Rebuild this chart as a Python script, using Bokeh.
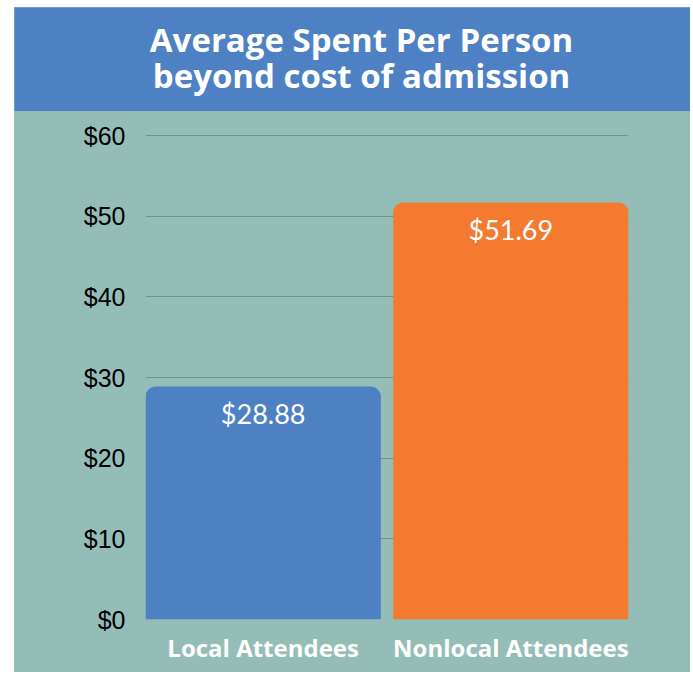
from bokeh.plotting import figure
from bokeh.models import ColumnDataSource, Range1d, FactorRange, FixedTicker, Label
from bokeh.layouts import column
from bokeh.core.properties import value
from bokeh.embed import file_html
from bokeh.resources import INLINE

categories = ["Local Attendees", "Nonlocal Attendees"]
values = [28.88, 51.69]
bar_colors = ["#4E81C4", "#F37A2F"]
value_labels = ["$28.88", "$51.69"]
tick_values = [0, 10, 20, 30, 40, 50, 60]
tick_labels = ["$0", "$10", "$20", "$30", "$40", "$50", "$60"]
title_lines = ["Average Spent Per Person", "beyond cost of admission"]

BLUE = "#4E81C4"
TEAL = "#95BDB7"

# Header band
hdr = figure(width=676, height=104, x_range=Range1d(0, 1), y_range=Range1d(0, 1),
             toolbar_location=None, output_backend="svg",
             min_border=0, min_border_left=0, min_border_right=0,
             min_border_top=0, min_border_bottom=0)
hdr.frame_align = False
hdr.axis.visible = False
hdr.grid.visible = False
hdr.background_fill_color = BLUE
hdr.border_fill_color = BLUE
hdr.outline_line_color = None
for line, ypos in zip(title_lines, [72, 36]):
    hdr.add_layout(Label(x=347, y=ypos, x_units="screen", y_units="screen", text=line,
                         text_align="center", text_baseline="middle",
                         text_color="white", text_font="Open Sans",
                         text_font_style="bold", text_font_size="33px"))

src = ColumnDataSource(dict(cat=categories, val=values, color=bar_colors, lab=value_labels))

# y range extended slightly so the $60 grid line is not clipped at the frame edge
p = figure(width=676, height=561,
           x_range=FactorRange(factors=categories, range_padding=-0.025),
           y_range=Range1d(0, 61),
           toolbar_location=None, output_backend="svg",
           min_border_left=131, min_border_right=62, min_border_top=16, min_border_bottom=53)
p.frame_align = False
p.background_fill_color = TEAL
p.border_fill_color = TEAL
p.outline_line_color = None

p.vbar(x="cat", top="val", bottom=0, width=0.95, color="color", source=src,
       line_color=None, border_radius=(10, 10, 0, 0))
p.text(x="cat", y="val", text="lab", source=src, y_offset=27,
       text_align="center", text_baseline="middle", text_color="white",
       text_font=value("Lato"), text_font_size="27px")

p.xgrid.visible = False
p.ygrid.ticker = FixedTicker(ticks=tick_values)
p.ygrid.grid_line_color = "#6E928C"
p.ygrid.grid_line_width = 1
p.ygrid.level = "underlay"

p.yaxis.ticker = FixedTicker(ticks=tick_values)
p.yaxis.major_label_overrides = {t: l for t, l in zip(tick_values, tick_labels)}
p.yaxis.axis_line_color = None
p.yaxis.major_tick_line_color = None
p.yaxis.minor_tick_line_color = None
p.yaxis.major_tick_out = 0
p.yaxis.major_tick_in = 0
p.yaxis.minor_tick_out = 0
p.yaxis.major_label_standoff = 20
p.yaxis.major_label_text_font = "Liberation Sans"
p.yaxis.major_label_text_font_size = "25px"
p.yaxis.major_label_text_color = "black"

p.xaxis.axis_line_color = None
p.xaxis.major_tick_line_color = None
p.xaxis.minor_tick_line_color = None
p.xaxis.major_tick_out = 0
p.xaxis.major_tick_in = 0
p.xaxis.major_label_standoff = 11
p.xaxis.major_label_text_font = "Open Sans"
p.xaxis.major_label_text_font_style = "bold"
p.xaxis.major_label_text_font_size = "24px"
p.xaxis.major_label_text_color = "white"

layout = column(hdr, p, spacing=0, margin=(7, 0, 0, 14),
                styles={"background-color": TEAL})

open("out.html", "w").write(file_html(layout, INLINE))
